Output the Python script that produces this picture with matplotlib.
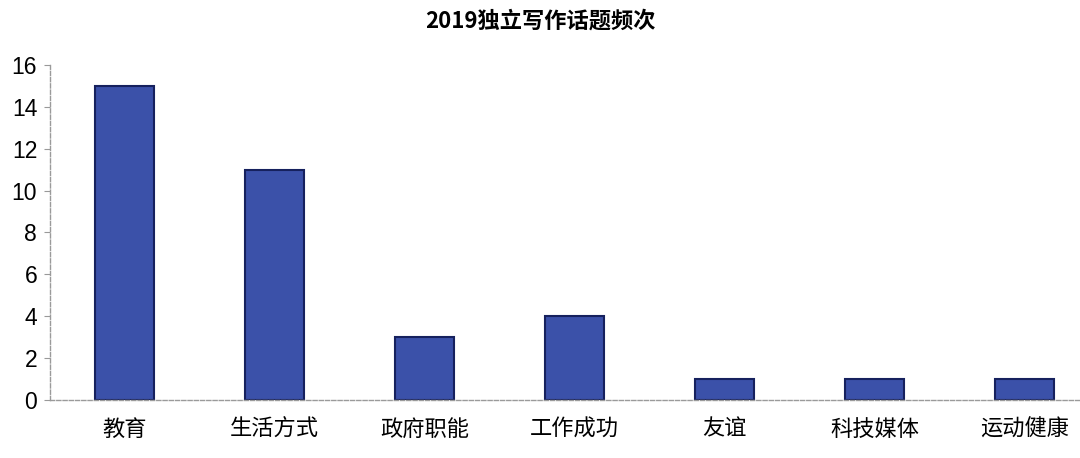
import numpy as np
import matplotlib.pyplot as plt

plt.rcParams['font.family'] = ['Noto Sans CJK SC', 'DejaVu Sans']

# 话题与出现次数
topics = ['教育', '生活方式', '政府职能', '工作成功', '友谊', '科技媒体', '运动健康']
counts = [15, 11, 3, 4, 1, 1, 1]
yticks = [0, 2, 4, 6, 8, 10, 12, 14, 16]

fig = plt.figure(figsize=(10.8, 4.58), dpi=100)
ax = fig.add_axes([0.046, 0.127, 0.954, 0.731])

x = np.arange(len(topics))
ax.bar(x, counts, width=0.39, color='#3b51a9', edgecolor='#16215e', linewidth=1.5)

ax.set_xlim(-0.5, 6.37)
ax.set_ylim(0, 16)
ax.set_yticks(yticks)
ax.set_yticklabels([str(t) for t in yticks], fontsize=16.5, family='Liberation Sans')
ax.set_xticks(x)
ax.set_xticklabels(topics, fontsize=16)
ax.tick_params(axis='y', length=4, color='#999999', pad=5)
ax.tick_params(axis='x', length=0, pad=13)

for s in ['top', 'right']:
    ax.spines[s].set_visible(False)
for s in ['left', 'bottom']:
    ax.spines[s].set_color('#9a9a9a')
    ax.spines[s].set_linestyle((0, (3, 1.5)))
    ax.spines[s].set_linewidth(1)

fig.text(0.5, 0.955, '2019独立写作话题频次', ha='center', va='center',
         fontsize=16, fontweight='bold')

fig.savefig('out.png', dpi=100)
